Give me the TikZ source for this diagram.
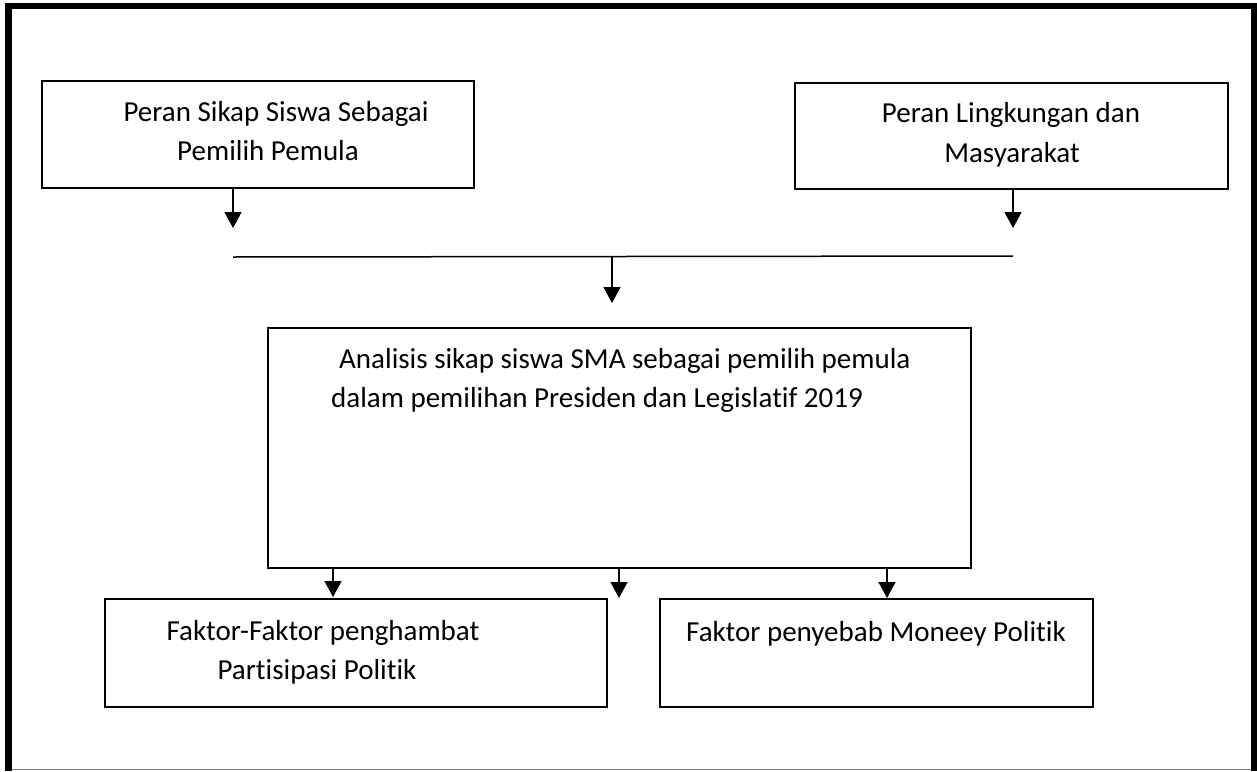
\documentclass[tikz,border=0pt]{standalone}
\usepackage{fontspec}
\setmainfont[Ligatures={NoCommon}]{Carlito}
\usetikzlibrary{arrows.meta}
\begin{document}
\begin{tikzpicture}[x=1pt,y=-1pt,
  boxstyle/.style={draw=black,line width=1.4pt,inner sep=0pt},
  txt/.style={inner sep=0pt,anchor=base,font=\fontsize{29}{39}\selectfont},
  txtl/.style={txt,anchor=base west},
  arr/.style={line width=1.5pt,-{Triangle[length=16pt,width=17pt]}},
  ln/.style={line width=1.5pt}]
\useasboundingbox (0,0) rectangle (1257,771);
% outer frame
\draw[line width=6.5pt] (8.5,771) -- (8.5,6) -- (1254,6) -- (1254,771);
\draw[line width=1pt,gray] (12,769.5) -- (1251,769.5);
% boxes
\node[boxstyle,minimum width=432pt,minimum height=107pt] (b1) at (258,134.5) {};
\node[boxstyle,minimum width=433pt,minimum height=106pt] (b2) at (1011.5,136) {};
\node[boxstyle,minimum width=703pt,minimum height=240pt] (bm) at (619.5,448) {};
\node[boxstyle,minimum width=502pt,minimum height=108pt] (b3) at (356,653) {};
\node[boxstyle,minimum width=433pt,minimum height=108pt] (b4) at (876.5,653) {};
% texts
\node[txt] (t1a) at (276,121) {Peran Sikap Siswa Sebagai};
\node[txt] (t1b) at (268,160) {Pemilih Pemula};
\node[txt] (t2a) at (1011,122) {Peran Lingkungan dan};
\node[txt] (t2b) at (1012,162) {Masyarakat};
\node[txtl] (tma) at (339,368) {Analisis sikap siswa SMA sebagai pemilih pemula};
\node[txtl] (tmb) at (331,407) {dalam pemilihan Presiden dan Legislatif 2019};
\node[txt] (t3a) at (323,640) {Faktor-Faktor penghambat};
\node[txt] (t3b) at (317,679) {Partisipasi Politik};
\node[txtl] (t4a) at (686,641) {Faktor penyebab Moneey Politik};
% connector coordinates
\coordinate (a1) at (233,228);
\coordinate (a2) at (1013,228);
\coordinate (hl) at (233,257);
\coordinate (hr) at (1013,256);
\coordinate (am) at (612,303);
\coordinate (hm) at (612,256.5);
\coordinate (c1) at (333,597);
\coordinate (c2) at (619,598);
\coordinate (c3) at (887,598);
% connectors
\draw[arr] (b1.south -| a1) -- (a1);
\draw[arr] (b2.south -| a2) -- (a2);
\draw[ln] (hl) -- (hr);
\draw[arr] (hm) -- (am);
\draw[arr] (bm.south -| c1) -- (c1);
\draw[arr] (bm.south -| c2) -- (c2);
\draw[arr] (bm.south -| c3) -- (c3);
\end{tikzpicture}
\end{document}
